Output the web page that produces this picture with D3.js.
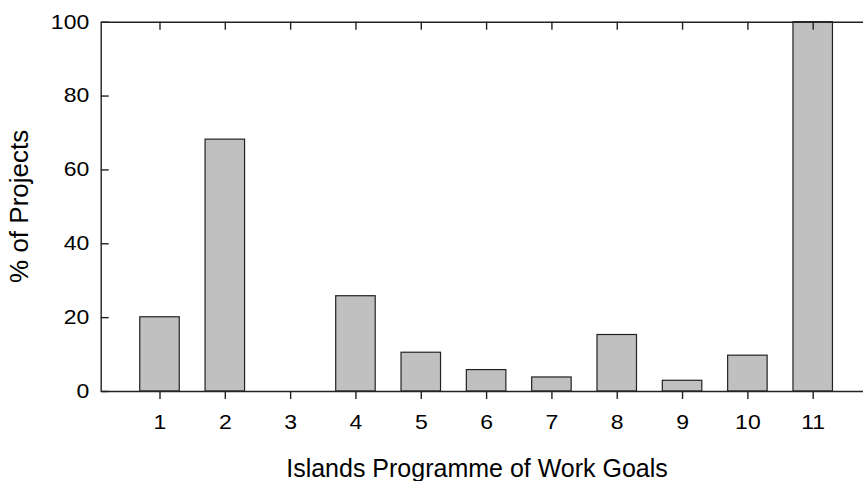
<!DOCTYPE html>
<html>
<head>
<meta charset="utf-8">
<script src="https://cdn.jsdelivr.net/npm/d3@7"></script>
<style>
  body { margin: 0; background: #fff; }
  text { font-family: Arial, "Liberation Sans", sans-serif; fill: #000; }
</style>
</head>
<body>
<div id="container"></div>
<script>
/* DATA */
const goals = [1, 2, 3, 4, 5, 6, 7, 8, 9, 10, 11];
const pctProjects = [20.1, 68.2, 0, 25.8, 10.5, 5.8, 3.8, 15.3, 2.9, 9.7, 100];
const yTicks = [0, 20, 40, 60, 80, 100];

const data = goals.map((g, i) => ({ goal: g, value: pctProjects[i] }));

/* CONSTANTS */
const width = 863;
const height = 481;
const plotLeft = 100.7, plotRight = 871.5, plotTop = 21.7, plotBottom = 391;
const tickLen = 8;
const lineColor = "#222";
const font = "Arial, 'Liberation Sans', sans-serif";
const stretch = 1.15; // tick labels in the original look a little wide

/* SCALES */
const xScale = d3.scaleLinear()
  .domain([0.1, 11.9])
  .range([plotLeft, plotRight]);

const barW = 39.5;

const yScale = d3.scaleLinear()
  .domain([0, 100])
  .range([plotBottom, plotTop]);

const svg = d3.select("#container")
  .append("svg")
  .attr("width", width)
  .attr("height", height);

// bars
svg.selectAll("rect.bar")
  .data(data)
  .join("rect")
  .attr("class", "bar")
  .attr("x", d => xScale(d.goal) - barW / 2)
  .attr("width", barW)
  .attr("y", d => yScale(d.value))
  .attr("height", d => yScale(0) - yScale(d.value))
  .attr("fill", "#c0c0c0")
  .attr("stroke", lineColor)
  .attr("stroke-width", 1.2);

// bottom axis
const xAxis = svg.append("g")
  .attr("transform", `translate(0,${plotBottom})`)
  .call(d3.axisBottom(xScale).tickValues(goals).tickSize(tickLen).tickPadding(16).tickSizeOuter(0));
xAxis.select(".domain").attr("stroke", lineColor).attr("stroke-width", 1.4);
xAxis.selectAll(".tick line").attr("stroke", lineColor).attr("stroke-width", 1.4);
xAxis.selectAll(".tick text")
  .attr("font-size", 20)
  .attr("font-family", font)
  .attr("transform", `scale(${stretch},1)`);

// top line with inward ticks
const xTop = svg.append("g")
  .attr("transform", `translate(0,${plotTop})`)
  .call(d3.axisTop(xScale).tickValues(goals).tickSize(-tickLen).tickFormat("").tickSizeOuter(0));
xTop.select(".domain").attr("stroke", lineColor).attr("stroke-width", 1.4);
xTop.selectAll(".tick line").attr("stroke", lineColor).attr("stroke-width", 1.4);

// left axis with inward ticks
const yAxis = svg.append("g")
  .attr("transform", `translate(${plotLeft},0)`)
  .call(d3.axisLeft(yScale).tickValues(yTicks).tickSize(-tickLen).tickPadding(10).tickSizeOuter(0));
yAxis.select(".domain").attr("stroke", lineColor).attr("stroke-width", 1.4);
yAxis.selectAll(".tick line").attr("stroke", lineColor).attr("stroke-width", 1.4);
yAxis.selectAll(".tick text")
  .attr("font-size", 20)
  .attr("font-family", font)
  .attr("transform", `scale(${stretch},1)`);

// axis titles
svg.append("text")
  .attr("x", 477)
  .attr("y", 477)
  .attr("text-anchor", "middle")
  .attr("font-size", 25)
  .text("Islands Programme of Work Goals");

svg.append("text")
  .attr("transform", `translate(28,${(plotTop + plotBottom) / 2}) rotate(-90)`)
  .attr("text-anchor", "middle")
  .attr("font-size", 26)
  .text("% of Projects");
</script>
</body>
</html>
